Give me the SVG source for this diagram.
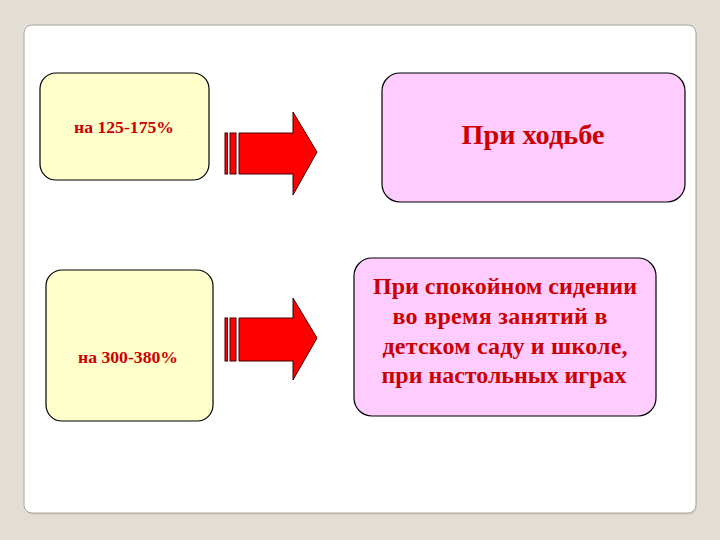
<svg xmlns="http://www.w3.org/2000/svg" width="720" height="540" viewBox="0 0 720 540">
<style>
.y{fill:#FFFFCC;stroke:#000;stroke-width:1.2}
.p{fill:#FFCCFF;stroke:#000;stroke-width:1.2}
.t{font-family:"Liberation Serif",serif;font-weight:bold;fill:#CC0000;text-anchor:middle}
.a{fill:#FF0000;stroke:#400000;stroke-width:1}
</style>
<rect width="720" height="540" fill="#E3DED4"/>
<rect x="25" y="27" width="672" height="488" rx="8" fill="#D5CFC4"/>
<rect x="24" y="25" width="672" height="488" rx="8" fill="#FFFFFF" stroke="#AAA59C" stroke-width="1"/>
<g id="n1"><rect class="y" x="40" y="73" width="169" height="107" rx="16"/><text class="t" x="124" y="133" font-size="16" textLength="100" lengthAdjust="spacingAndGlyphs">на 125-175%</text></g>
<g id="n2"><rect class="y" x="46" y="270" width="167" height="151" rx="16"/><text class="t" x="128" y="363" font-size="16" textLength="100" lengthAdjust="spacingAndGlyphs">на 300-380%</text></g>
<g id="n3"><rect class="p" x="382" y="73" width="303" height="129" rx="18"/><text class="t" x="533" y="144" font-size="28" textLength="143" lengthAdjust="spacingAndGlyphs">При ходьбе</text></g>
<g id="n4"><rect class="p" x="354" y="258" width="302" height="158" rx="18"/>
<text class="t" font-size="24" lengthAdjust="spacingAndGlyphs"><tspan x="505" y="294" textLength="264">При спокойном сидении</tspan><tspan x="500" y="324" textLength="215">во время занятий в</tspan><tspan x="505" y="354" textLength="245">детском саду и школе,</tspan><tspan x="504" y="383" textLength="245">при настольных играх</tspan></text></g>
<g id="connectors">
<g id="arrow1"><rect class="a" x="225" y="133" width="2.5" height="41"/><rect class="a" x="230" y="133" width="6" height="41"/><path class="a" d="M239 133 H293 V112 L317 152 L293 195 V174 H239 Z"/></g>
<g id="arrow2"><rect class="a" x="225" y="318" width="2.5" height="43"/><rect class="a" x="230" y="318" width="6" height="43"/><path class="a" d="M239 318 H293 V298 L317 338 L293 380 V361 H239 Z"/></g>
</g>
</svg>
